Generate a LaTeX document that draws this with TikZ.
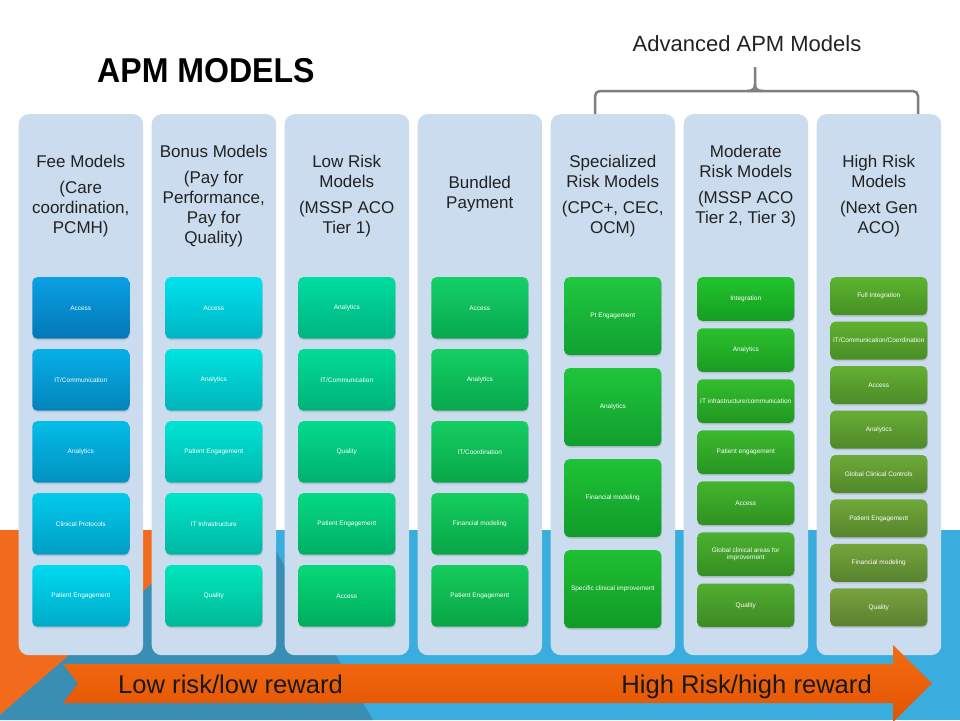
\documentclass[tikz,border=0pt]{standalone}
\usepackage{fontspec}
\setmainfont{Liberation Sans}
\newfontfamily\titlefont[FakeStretch=0.93]{Liberation Sans}
\usetikzlibrary{shadows}
\definecolor{bgsky}{HTML}{3AADDF}
\definecolor{bgdark}{HTML}{3A8DB3}
\definecolor{bgorange}{HTML}{F26A1B}
\definecolor{colfill}{HTML}{CADCEE}
\definecolor{bracketgray}{HTML}{7F7F7F}
\definecolor{txtdark}{HTML}{222222}
\definecolor{arrowtop}{HTML}{F46C12}
\definecolor{arrowbot}{HTML}{E35300}
\definecolor{c1ta}{HTML}{0AA0E4}\definecolor{c1ba}{HTML}{0378B6}\definecolor{c1tb}{HTML}{00D9EE}\definecolor{c1bb}{HTML}{00AAC8}
\definecolor{c2ta}{HTML}{00E2EC}\definecolor{c2ba}{HTML}{00B4C4}\definecolor{c2tb}{HTML}{00E6BC}\definecolor{c2bb}{HTML}{00B898}
\definecolor{c3ta}{HTML}{00DCA0}\definecolor{c3ba}{HTML}{00B480}\definecolor{c3tb}{HTML}{08D878}\definecolor{c3bb}{HTML}{00AC5C}
\definecolor{c4ta}{HTML}{14D066}\definecolor{c4ba}{HTML}{08A84E}\definecolor{c4tb}{HTML}{16CC5C}\definecolor{c4bb}{HTML}{08A444}
\definecolor{c5ta}{HTML}{20C840}\definecolor{c5ba}{HTML}{10A030}\definecolor{c5tb}{HTML}{1EC030}\definecolor{c5bb}{HTML}{109A28}
\definecolor{c6ta}{HTML}{24C42C}\definecolor{c6ba}{HTML}{149E22}\definecolor{c6tb}{HTML}{52AE30}\definecolor{c6bb}{HTML}{3C8A22}
\definecolor{c7ta}{HTML}{5CB52E}\definecolor{c7ba}{HTML}{468F24}\definecolor{c7tb}{HTML}{78A23E}\definecolor{c7bb}{HTML}{5C8030}
\tikzset{
  colbox/.style={fill=colfill, rounded corners=10pt, draw=none, inner sep=0pt, anchor=north west, minimum width=124.5, minimum height=541},
  hdr/.style={font=\fontsize{17}{20}\selectfont, text=txtdark, align=center, inner sep=0pt},
  mbox/.style={rounded corners=5pt, text=white, align=center, font=\fontsize{6.5}{7.5}\selectfont, minimum width=97, inner sep=1pt, drop shadow={opacity=0.25, shadow xshift=0.6pt, shadow yshift=-1.6pt}},
  bracketline/.style={draw=bracketgray, line width=2.5pt},
  arrowtxt/.style={font=\fontsize{25.6}{28}\selectfont, text=black!90, inner sep=0pt}
}
\newcommand\boxcol[6]{%
  \foreach \txt [count=\k] in {#6}{%
    \pgfmathtruncatemacro\pp{100*(#5-\k)/(#5-1)}%
    \pgfmathsetmacro\yy{277+(\k-1)*#4}%
    \node[mbox, minimum height=#3, anchor=north, top color=c#1ta!\pp!c#1tb, bottom color=c#1ba!\pp!c#1bb] (c#1b\k) at (#2,\yy) {\txt};
  }}
\begin{document}
\begin{tikzpicture}[x=1pt,y=-1pt]
\useasboundingbox (0,0) rectangle (960,720);
% background
\fill[white] (0,0) rectangle (960,720);
\fill[bgsky] (0,530) rectangle (960,720);
\fill[bgorange] (0,530) -- (214,530) -- (0,715) -- cycle;
\fill[bgdark] (0,715) -- (214,530) -- (264,530) -- (373,720) -- (0,720) -- cycle;
% title
\node[font=\titlefont\bfseries\fontsize{34.5}{36}\selectfont, text=black, anchor=base west, inner sep=0pt] (title) at (97,82) {APM MODELS};
\node[font=\fontsize{22}{24}\selectfont, text=txtdark, anchor=base, inner sep=0pt] (adv) at (747,51) {Advanced APM Models};
% bracket
\draw[bracketline, rounded corners=5pt] (595,116) -- (595,91) -- (918,91) -- (918,116);
\draw[bracketline] (747,91) .. controls (753,91) and (755,89) .. (755,84) -- (755,67);
\draw[bracketline] (763,91) .. controls (757,91) and (755,89) .. (755,84);
% columns
\node[colbox] (col1) at (18.5,114) {};
\node[colbox] (col2) at (151.5,114) {};
\node[colbox] (col3) at (284.5,114) {};
\node[colbox] (col4) at (417.5,114) {};
\node[colbox] (col5) at (550.5,114) {};
\node[colbox] (col6) at (683.5,114) {};
\node[colbox] (col7) at (816.5,114) {};
% headers
\node[hdr] (h1) at (80.75,196) {Fee Models\\[6.5pt](Care\\coordination,\\PCMH)};
\node[hdr] (h2) at (213.75,196) {Bonus Models\\[6.5pt](Pay for\\Performance,\\Pay for\\Quality)};
\node[hdr] (h3) at (346.75,196) {Low Risk\\Models\\[6.5pt](MSSP ACO\\Tier 1)};
\node[hdr] (h4) at (479.75,194) {Bundled\\Payment};
\node[hdr] (h5) at (612.75,196) {Specialized\\Risk Models\\[6.5pt](CPC+, CEC,\\OCM)};
\node[hdr] (h6) at (745.75,186) {Moderate\\Risk Models\\[6.5pt](MSSP ACO\\Tier 2, Tier 3)};
\node[hdr] (h7) at (878.75,196) {High Risk\\Models\\[6.5pt](Next Gen\\ACO)};
% boxes
\boxcol{1}{80.75}{61.5}{72}{5}{Access, IT/Communication, Analytics, Clinical Protocols, Patient Engagement}
\boxcol{2}{213.75}{61.5}{72}{5}{Access, Analytics, Patient Engagement, IT Infrastructure, Quality}
\boxcol{3}{346.75}{61.5}{72}{5}{Analytics, IT/Communication, Quality, Patient Engagement, Access}
\boxcol{4}{479.75}{61.5}{72}{5}{Access, Analytics, IT/Coordination, Financial modeling, Patient Engagement}
\boxcol{5}{612.75}{78}{91}{4}{Pt Engagement, Analytics, Financial modeling, Specific clinical improvement}
\boxcol{6}{745.75}{43.7}{51.05}{7}{Integration, Analytics, IT infrastructure/communication, Patient engagement, Access, {Global clinical areas for\\improvement}, Quality}
\boxcol{7}{878.75}{38}{44.45}{8}{Full Integration, IT/Communication/Coordination, Access, Analytics, Global Clinical Controls, Patient Engagement, Financial modeling, Quality}
% arrow
\path[top color=arrowtop, bottom color=arrowbot] (63,664) -- (893,664) -- (893,645) -- (932,683.5) -- (893,722) -- (893,703) -- (63,703) -- (78,683.5) -- cycle;
\node[arrowtxt, anchor=base west] (low) at (118,693) {Low risk/low reward};
\node[arrowtxt, anchor=base east] (high) at (872,693) {High Risk/high reward};
\end{tikzpicture}
\end{document}
